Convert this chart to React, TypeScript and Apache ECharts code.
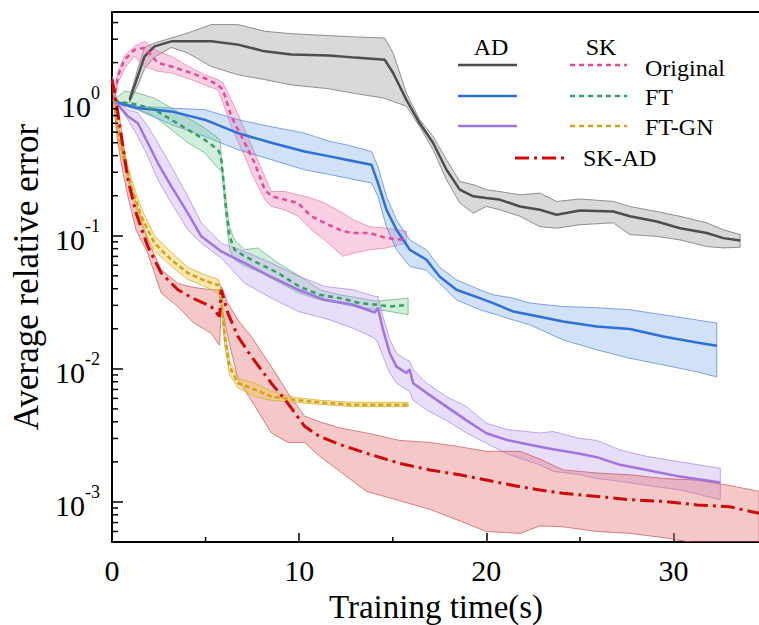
import React, { useEffect, useRef } from "react";
import * as echarts from "echarts";

const FONT = "Liberation Serif";

// ---------- data: AD (automatic differentiation) ----------
const X_AD_ORIG = [0.94, 1.38, 1.74, 2.27, 3.17, 4.05, 5.3, 6.73, 8.16, 9.58, 11.6, 13.0, 14.57, 15.02, 15.73, 16.44, 17.15, 17.87, 18.58, 19.3, 20.0, 20.7, 21.8, 22.86, 23.75, 25.0, 26.78, 27.67, 29.1, 30.35, 31.78, 32.66, 33.56];
const MEAN_AD_ORIG = [1.05, 1.58, 2.23, 2.65, 2.89, 2.89, 2.89, 2.73, 2.43, 2.3, 2.26, 2.18, 2.1, 1.67, 1.05, 0.7, 0.5, 0.313, 0.222, 0.198, 0.192, 0.187, 0.166, 0.157, 0.144, 0.155, 0.152, 0.14, 0.128, 0.114, 0.105, 0.096, 0.092];
const HI_AD_ORIG = [1.1, 1.8, 2.6, 2.81, 3.06, 3.34, 3.86, 3.86, 3.44, 3.3, 3.19, 3.12, 3.06, 2.36, 1.18, 0.745, 0.558, 0.373, 0.256, 0.242, 0.222, 0.215, 0.203, 0.209, 0.181, 0.189, 0.181, 0.166, 0.152, 0.14, 0.125, 0.111, 0.102];
const LO_AD_ORIG = [1.0, 1.35, 1.8, 2.2, 2.6, 2.36, 1.87, 1.62, 1.49, 1.36, 1.27, 1.17, 1.08, 1.02, 0.94, 0.66, 0.443, 0.264, 0.176, 0.148, 0.166, 0.157, 0.14, 0.117, 0.114, 0.121, 0.125, 0.102, 0.099, 0.093, 0.083, 0.081, 0.082];

const X_AD_FT = [0.1, 0.31, 1.38, 3.17, 4.95, 6.73, 8.51, 10.29, 11.63, 12.52, 13.86, 14.21, 14.66, 15.2, 15.91, 16.8, 17.5, 18.4, 19.65, 20.36, 21.43, 22.33, 24.1, 25.9, 27.67, 29.45, 31.24, 32.31];
const MEAN_AD_FT = [1.05, 1.0, 0.91, 0.86, 0.745, 0.59, 0.5, 0.43, 0.395, 0.373, 0.342, 0.249, 0.157, 0.111, 0.0785, 0.066, 0.0494, 0.0393, 0.034, 0.0312, 0.027, 0.0255, 0.0227, 0.0208, 0.0199, 0.0175, 0.0158, 0.0149];
const HI_AD_FT = [1.05, 1.02, 0.94, 0.91, 0.886, 0.745, 0.66, 0.59, 0.512, 0.483, 0.43, 0.332, 0.198, 0.132, 0.093, 0.0785, 0.058, 0.0467, 0.0393, 0.036, 0.034, 0.0312, 0.0294, 0.0288, 0.0278, 0.0255, 0.0233, 0.0221];
const LO_AD_FT = [1.05, 0.98, 0.88, 0.684, 0.558, 0.443, 0.373, 0.313, 0.288, 0.272, 0.249, 0.198, 0.117, 0.0785, 0.0589, 0.055, 0.044, 0.033, 0.0278, 0.026, 0.0233, 0.0214, 0.0165, 0.0139, 0.012, 0.0107, 0.0095, 0.0087];

const X_AD_FTGN = [0.1, 0.85, 1.38, 1.91, 2.45, 3.17, 4.05, 4.77, 5.84, 7.09, 8.51, 9.94, 11.36, 12.88, 14.04, 14.21, 14.48, 14.84, 15.2, 15.73, 15.9, 16.09, 16.8, 17.87, 18.94, 20.0, 21.1, 22.86, 23.57, 25.0, 25.9, 27.14, 28.57, 30.35, 32.5];
const MEAN_AD_FTGN = [1.05, 0.79, 0.7, 0.5, 0.352, 0.235, 0.148, 0.099, 0.0762, 0.0623, 0.049, 0.0393, 0.033, 0.0303, 0.0265, 0.0288, 0.0197, 0.0131, 0.0104, 0.0093, 0.0099, 0.0078, 0.0066, 0.0052, 0.0041, 0.00328, 0.00292, 0.0026, 0.00249, 0.0023, 0.00217, 0.0019, 0.00174, 0.00155, 0.0014];
const HI_AD_FTGN = [1.05, 0.886, 0.84, 0.664, 0.5, 0.332, 0.198, 0.125, 0.088, 0.076, 0.0623, 0.05, 0.0416, 0.0393, 0.035, 0.035, 0.0247, 0.0166, 0.0131, 0.0117, 0.0115, 0.0099, 0.0078, 0.0062, 0.0052, 0.0039, 0.0035, 0.0033, 0.00338, 0.003, 0.0029, 0.00246, 0.0022, 0.002, 0.00179];
const LO_AD_FTGN = [1.05, 0.745, 0.558, 0.395, 0.264, 0.176, 0.111, 0.088, 0.068, 0.044, 0.034, 0.027, 0.024, 0.0202, 0.017, 0.0156, 0.0124, 0.0093, 0.0078, 0.007, 0.0068, 0.0058, 0.0049, 0.0041, 0.0033, 0.00276, 0.0023, 0.0019, 0.0017, 0.0016, 0.0015, 0.00143, 0.00133, 0.00123, 0.00104];

// ---------- data: SK ----------
const X_SK_ORIG = [0.1, 0.31, 0.67, 1.2, 1.74, 2.45, 3.17, 4.24, 4.95, 5.66, 5.93, 6.37, 7.09, 7.62, 8.16, 8.51, 9.22, 9.94, 10.65, 11.36, 12.34, 12.88, 13.77, 14.66, 15.73];
const MEAN_SK_ORIG = [1.02, 1.58, 2.1, 2.5, 2.58, 1.99, 1.87, 1.67, 1.53, 1.36, 1.25, 0.79, 0.5, 0.352, 0.222, 0.198, 0.187, 0.176, 0.14, 0.125, 0.108, 0.105, 0.105, 0.096, 0.093];
const HI_SK_ORIG = [1.05, 1.7, 2.25, 2.65, 2.89, 2.43, 2.23, 1.82, 1.62, 1.49, 1.41, 1.05, 0.63, 0.42, 0.279, 0.215, 0.215, 0.203, 0.192, 0.176, 0.148, 0.132, 0.117, 0.114, 0.108];
const LO_SK_ORIG = [1.0, 1.4, 1.8, 2.23, 1.87, 1.72, 1.67, 1.49, 1.36, 1.25, 1.0, 0.66, 0.395, 0.264, 0.187, 0.166, 0.157, 0.14, 0.111, 0.093, 0.07, 0.074, 0.0785, 0.081, 0.088];

const X_SK_FT = [0.1, 0.67, 1.38, 2.27, 3.17, 4.05, 4.95, 5.66, 5.78, 5.85, 5.93, 6.1, 6.28, 6.55, 7.09, 7.8, 8.87, 10.0, 11.1, 12.17, 13.24, 14.13, 14.84, 15.82];
const MEAN_SK_FT = [1.05, 1.0, 0.966, 0.886, 0.745, 0.627, 0.527, 0.443, 0.41, 0.36, 0.279, 0.157, 0.099, 0.0785, 0.07, 0.0623, 0.0525, 0.0416, 0.036, 0.034, 0.0312, 0.0303, 0.0294, 0.0303];
const HI_SK_FT = [1.05, 1.22, 1.18, 1.08, 0.91, 0.767, 0.645, 0.543, 0.52, 0.38, 0.3, 0.18, 0.117, 0.093, 0.0785, 0.081, 0.0623, 0.05, 0.0393, 0.036, 0.034, 0.0322, 0.033, 0.034];
const LO_SK_FT = [1.05, 0.95, 0.9, 0.79, 0.627, 0.5, 0.42, 0.322, 0.31, 0.33, 0.25, 0.135, 0.0785, 0.066, 0.059, 0.054, 0.045, 0.037, 0.033, 0.031, 0.0288, 0.028, 0.027, 0.0255];

const X_SK_FTGN = [0.1, 0.31, 0.67, 1.03, 1.56, 2.27, 3.17, 4.05, 4.95, 5.7, 5.84, 6.02, 6.28, 6.73, 7.62, 8.51, 9.76, 11.19, 12.88, 14.66, 15.82];
const MEAN_SK_FTGN = [1.05, 0.627, 0.373, 0.235, 0.14, 0.088, 0.066, 0.0525, 0.046, 0.0425, 0.033, 0.0175, 0.0104, 0.0078, 0.007, 0.0062, 0.00585, 0.00558, 0.00537, 0.00537, 0.00537];
const HI_SK_FTGN = [1.1, 0.7, 0.42, 0.27, 0.16, 0.1, 0.075, 0.058, 0.051, 0.047, 0.038, 0.02, 0.0115, 0.0085, 0.0078, 0.0068, 0.0061, 0.0058, 0.0056, 0.0056, 0.0056];
const LO_SK_FTGN = [1.0, 0.56, 0.33, 0.205, 0.122, 0.077, 0.059, 0.047, 0.0416, 0.037, 0.03, 0.015, 0.009, 0.0072, 0.0062, 0.0058, 0.0056, 0.0054, 0.0052, 0.0052, 0.0052];

const X_SKAD = [0, 0.13, 0.31, 0.58, 0.85, 1.29, 1.91, 2.63, 3.52, 4.3, 5.3, 5.75, 5.84, 6.19, 6.73, 7.44, 8.51, 9.4, 10.29, 11.1, 12.17, 13.6, 15.37, 16.98, 18.58, 20.0, 21.8, 22.86, 24.1, 25.9, 27.67, 29.45, 31.24, 33.0, 34.57];
const MEAN_SKAD = [1.5, 1.2, 0.837, 0.47, 0.264, 0.148, 0.083, 0.0525, 0.0393, 0.034, 0.0294, 0.0247, 0.0393, 0.0262, 0.0175, 0.0124, 0.0078, 0.0055, 0.0037, 0.0031, 0.0027, 0.00232, 0.00195, 0.00174, 0.0016, 0.00146, 0.0013, 0.00123, 0.00116, 0.0011, 0.00104, 0.00101, 0.00095, 0.00092, 0.00082];
const HI_SKAD = [1.6, 1.3, 0.94, 0.527, 0.296, 0.176, 0.093, 0.0555, 0.044, 0.041, 0.0393, 0.0393, 0.0416, 0.0312, 0.0233, 0.0175, 0.0104, 0.0066, 0.0044, 0.004, 0.0036, 0.0033, 0.0029, 0.0028, 0.0026, 0.0024, 0.0024, 0.0021, 0.00174, 0.00165, 0.0016, 0.0015, 0.00146, 0.00133, 0.0012];
const LO_SKAD = [1.4, 0.837, 0.5, 0.3, 0.198, 0.11, 0.074, 0.037, 0.0294, 0.0225, 0.0185, 0.015, 0.03, 0.0175, 0.0083, 0.0058, 0.0033, 0.0028, 0.0028, 0.0022, 0.0017, 0.0012, 0.00102, 0.00088, 0.00072, 0.0006, 0.00058, 0.00066, 0.00065, 0.0006, 0.00058, 0.00054, 0.00049, 0.00044, 0.0004];

// ---------- axes ----------
const X_MIN = 0;
const X_MAX = 34.62;
const X_MAJOR_INTERVAL = 10;
const X_MINOR_TICKS = [5, 15, 25];
const Y_MIN = 0.0005;
const Y_MAX = 4.8;
const Y_MINOR_TICKS = [0.0006, 0.0007, 0.0008, 0.0009, 0.002, 0.003, 0.004, 0.005, 0.006, 0.007, 0.008, 0.009, 0.02, 0.03, 0.04, 0.05, 0.06, 0.07, 0.08, 0.09, 0.2, 0.3, 0.4, 0.5, 0.6, 0.7, 0.8, 0.9, 2, 3, 4];

const zip = (xs: number[], ys: number[]) => xs.map((x, i) => [x, ys[i]]);

function band(name: string, xs: number[], lo: number[], hi: number[], fill: string, stroke: string) {
  return {
    type: "custom",
    name,
    z: 1,
    silent: true,
    data: [[xs[0], hi[0]]],
    encode: { x: 0, y: 1 },
    renderItem: (params: any, api: any) => {
      const pts: number[][] = [];
      for (let i = 0; i < xs.length; i++) pts.push(api.coord([xs[i], hi[i]]));
      for (let i = xs.length - 1; i >= 0; i--) pts.push(api.coord([xs[i], lo[i]]));
      const cs = params.coordSys;
      return {
        type: "polygon",
        shape: { points: pts },
        style: { fill, stroke, lineWidth: 0.8 },
        clipPath: { type: "rect", shape: { x: cs.x, y: cs.y, width: cs.width, height: cs.height } },
      };
    },
  };
}

function line(name: string, xs: number[], ys: number[], color: string, type: any, width = 2.5) {
  return {
    type: "line",
    name,
    z: 3,
    data: zip(xs, ys),
    symbol: "none",
    showSymbol: false,
    clip: true,
    lineStyle: { color, width, type },
  };
}

const C = {
  adOrig: "#4d4d4d",
  adFt: "#2e6fd8",
  adFtgn: "#a274de",
  skOrig: "#e8489a",
  skFt: "#36a062",
  skFtgn: "#d3a21c",
  skad: "#cc0a0a",
};

export default function App() {
  const ref = useRef<HTMLDivElement>(null);
  useEffect(() => {
    if (!ref.current) return;
    const chart = echarts.init(ref.current, null, { renderer: "svg" });

    const legendLine = (x1: number, x2: number, y: number, stroke: string, dash?: number[], w = 2.5) => ({
      type: "line",
      shape: { x1, y1: y, x2, y2: y },
      style: { stroke, lineWidth: w, lineDash: dash },
      z: 100,
    });
    const legendText = (x: number, y: number, text: string, align = "left") => ({
      type: "text",
      x,
      y,
      z: 100,
      style: { text, fontSize: 24, fontFamily: FONT, fill: "#000", align, verticalAlign: "middle" },
    });

    chart.setOption({
      animation: false,
      backgroundColor: "#fff",
      textStyle: { fontFamily: FONT },
      grid: { left: 112, right: -1, top: 12, bottom: 83, containLabel: false, outerBoundsMode: "none" },
      xAxis: [
        {
          type: "value",
          min: X_MIN,
          max: X_MAX,
          interval: X_MAJOR_INTERVAL,
          name: "Training time(s)",
          nameLocation: "middle",
          nameGap: 40,
          nameTextStyle: { fontSize: 33, lineHeight: 34, fontFamily: FONT, color: "#000" },
          axisLine: { show: true, onZero: false, lineStyle: { color: "#000", width: 2 } },
          axisTick: { show: true, inside: true, length: 9, lineStyle: { color: "#000", width: 1.5 } },
          axisLabel: {
            fontSize: 30,
            fontFamily: FONT,
            color: "#000",
            margin: 13,
            showMaxLabel: false,
            formatter: (v: number) => (Math.abs(v % 10) < 1e-9 ? String(v) : ""),
          },
          splitLine: { show: false },
        },
        {
          type: "value",
          position: "top",
          min: X_MIN,
          max: X_MAX,
          axisLine: { show: true, lineStyle: { color: "#000", width: 2 } },
          axisTick: { show: false },
          axisLabel: { show: false },
          splitLine: { show: false },
        },
      ],
      yAxis: {
        type: "log",
        logBase: 10,
        min: Y_MIN,
        max: Y_MAX,
        name: "Average relative error",
        nameLocation: "middle",
        nameGap: 66,
        nameTextStyle: { fontSize: 35, fontFamily: FONT, color: "#000" },
        axisLine: { show: true, onZero: false, lineStyle: { color: "#000", width: 2 } },
        axisTick: { show: true, inside: true, length: 11, lineStyle: { color: "#000", width: 1.5 } },
        axisLabel: {
          margin: 12,
          showMinLabel: false,
          showMaxLabel: false,
          formatter: (v: number) => {
            const e = Math.round(Math.log10(v));
            if (Math.abs(Math.log10(v) - e) > 1e-6) return "";
            return "{b|10}{s|" + e + "}";
          },
          rich: {
            b: { fontSize: 30, fontFamily: FONT, color: "#000", lineHeight: 38, verticalAlign: "bottom" },
            s: { fontSize: 18, fontFamily: FONT, color: "#000", lineHeight: 18, verticalAlign: "top" },
          },
        },
        splitLine: { show: false },
      },
      graphic: [
        legendText(491, 47, "AD", "center"),
        legendText(601, 47, "SK", "center"),
        legendLine(458, 517, 65, C.adOrig),
        legendLine(570, 627, 65, C.skOrig, [5, 4]),
        legendText(645, 68, "Original"),
        legendLine(458, 517, 96, C.adFt),
        legendLine(570, 627, 96, C.skFt, [5, 4]),
        legendText(645, 97, "FT"),
        legendLine(458, 517, 126, C.adFtgn),
        legendLine(570, 627, 126, C.skFtgn, [5, 4]),
        legendText(645, 127, "FT-GN"),
        legendLine(515, 565, 158, C.skad, [14, 5, 3, 5], 3),
        legendText(583, 158, "SK-AD"),
      ],
      series: [
        band("AD Original band", X_AD_ORIG, LO_AD_ORIG, HI_AD_ORIG, "rgba(170,170,170,0.45)", "rgba(90,90,90,0.8)"),
        band("SK Original band", X_SK_ORIG, LO_SK_ORIG, HI_SK_ORIG, "rgba(240,130,185,0.38)", "rgba(230,110,160,0.8)"),
        band("AD FT band", X_AD_FT, LO_AD_FT, HI_AD_FT, "rgba(120,170,235,0.35)", "rgba(60,120,215,0.8)"),
        band("SK FT band", X_SK_FT, LO_SK_FT, HI_SK_FT, "rgba(120,205,150,0.35)", "rgba(80,170,110,0.8)"),
        band("AD FT-GN band", X_AD_FTGN, LO_AD_FTGN, HI_AD_FTGN, "rgba(190,160,240,0.35)", "rgba(160,120,225,0.8)"),
        band("SK-AD band", X_SKAD, LO_SKAD, HI_SKAD, "rgba(225,110,110,0.38)", "rgba(200,70,70,0.8)"),
        band("SK FT-GN band", X_SK_FTGN, LO_SK_FTGN, HI_SK_FTGN, "rgba(240,200,60,0.4)", "rgba(210,170,40,0.9)"),
        line("AD Original", X_AD_ORIG, MEAN_AD_ORIG, C.adOrig, "solid"),
        line("AD FT", X_AD_FT, MEAN_AD_FT, C.adFt, "solid"),
        line("AD FT-GN", X_AD_FTGN, MEAN_AD_FTGN, C.adFtgn, "solid"),
        line("SK Original", X_SK_ORIG, MEAN_SK_ORIG, C.skOrig, [5, 4]),
        line("SK FT", X_SK_FT, MEAN_SK_FT, C.skFt, [5, 4]),
        line("SK FT-GN", X_SK_FTGN, MEAN_SK_FTGN, C.skFtgn, [5, 3]),
        line("SK-AD", X_SKAD, MEAN_SKAD, C.skad, [14, 5, 3, 5], 3),
        {
          type: "custom",
          name: "y minor ticks",
          z: 5,
          silent: true,
          data: Y_MINOR_TICKS.map((v) => [0, v]),
          encode: { x: 0, y: 1 },
          renderItem: (_p: any, api: any) => {
            const p = api.coord([X_MIN, api.value(1)]);
            return { type: "line", shape: { x1: p[0], y1: p[1], x2: p[0] + 6, y2: p[1] }, style: { stroke: "#000", lineWidth: 1.5 } };
          },
        },
        {
          type: "custom",
          name: "x minor ticks",
          z: 5,
          silent: true,
          data: X_MINOR_TICKS.map((v) => [v, Y_MIN]),
          encode: { x: 0, y: 1 },
          renderItem: (_p: any, api: any) => {
            const p = api.coord([api.value(0), Y_MIN]);
            return { type: "line", shape: { x1: p[0], y1: p[1], x2: p[0], y2: p[1] - 5 }, style: { stroke: "#000", lineWidth: 1.5 } };
          },
        },
      ],
    });
    return () => chart.dispose();
  }, []);
  return <div ref={ref} style={{ position: "absolute", left: 0, top: 0, width: 759, height: 625 }} />;
}
